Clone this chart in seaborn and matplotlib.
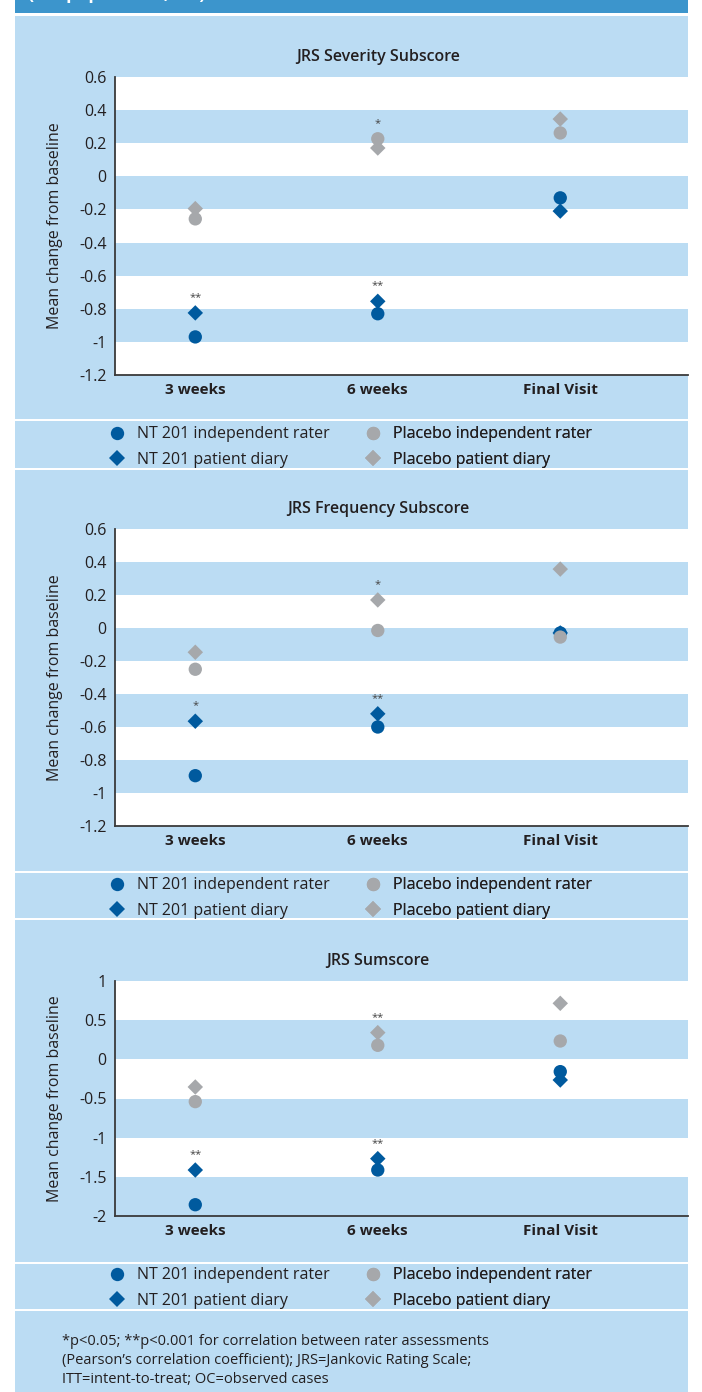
import matplotlib
matplotlib.use("Agg")
import matplotlib.pyplot as plt
from matplotlib.patches import Rectangle
from matplotlib.lines import Line2D
import pandas as pd
import seaborn as sns

visits = ['3 weeks', '6 weeks', 'Final Visit']
series = ['NT 201 independent rater', 'NT 201 patient diary',
          'Placebo independent rater', 'Placebo patient diary']

# JRS Severity Subscore
sev_nt_rater = [-0.97, -0.83, -0.13]
sev_nt_diary = [-0.825, -0.755, -0.21]
sev_pl_rater = [-0.257, 0.227, 0.262]
sev_pl_diary = [-0.195, 0.171, 0.346]
sev_ticks = [0.6, 0.4, 0.2, 0, -0.2, -0.4, -0.6, -0.8, -1, -1.2]
sev_sig = [('3 weeks', 'NT 201 patient diary', '**'),
           ('6 weeks', 'Placebo independent rater', '*'),
           ('6 weeks', 'NT 201 patient diary', '**')]

# JRS Frequency Subscore
frq_nt_rater = [-0.895, -0.60, -0.03]
frq_nt_diary = [-0.565, -0.52, -0.03]
frq_pl_rater = [-0.25, -0.015, -0.055]
frq_pl_diary = [-0.147, 0.17, 0.357]
frq_ticks = [0.6, 0.4, 0.2, 0, -0.2, -0.4, -0.6, -0.8, -1, -1.2]
frq_sig = [('3 weeks', 'NT 201 patient diary', '*'),
           ('6 weeks', 'Placebo patient diary', '*'),
           ('6 weeks', 'NT 201 patient diary', '**')]

# JRS Sumscore
sum_nt_rater = [-1.856, -1.413, -0.157]
sum_nt_diary = [-1.413, -1.268, -0.264]
sum_pl_rater = [-0.54, 0.179, 0.234]
sum_pl_diary = [-0.353, 0.341, 0.715]
sum_ticks = [1, 0.5, 0, -0.5, -1, -1.5, -2]
sum_sig = [('3 weeks', 'NT 201 patient diary', '**'),
           ('6 weeks', 'Placebo patient diary', '**'),
           ('6 weeks', 'NT 201 patient diary', '**')]

titles = ['JRS Severity Subscore', 'JRS Frequency Subscore', 'JRS Sumscore']
footnote = ("*p<0.05; **p<0.001 for correlation between rater assessments\n"
            "(Pearson\u2019s correlation coefficient); JRS=Jankovic Rating Scale;\n"
            "ITT=intent-to-treat; OC=observed cases")
header = "(ITT population, OC)"

BLUE = '#005a9e'
GREY = '#a6a8ab'
PANEL = '#bbdcf3'
HEAD = '#3c95cc'
INK = '#231f20'

palette = {series[0]: BLUE, series[1]: BLUE, series[2]: GREY, series[3]: GREY}
markers = {series[0]: 'o', series[1]: 'D', series[2]: 'o', series[3]: 'D'}
sizes = {series[0]: 92, series[1]: 62, series[2]: 92, series[3]: 62}

sns.set_theme(style='white')
plt.rcParams['font.family'] = ['Open Sans', 'DejaVu Sans']

W, H = 702, 1392
fig = plt.figure(figsize=(W / 100, H / 100), dpi=100)
fig.patch.set_facecolor('white')


def fy(px):
    return 1 - px / H


def rect(x0, y0, x1, y1, color):
    fig.patches.append(Rectangle((x0 / W, fy(y1)), (x1 - x0) / W, (y1 - y0) / H,
                                 transform=fig.transFigure, color=color, lw=0, zorder=-5))


# background panel, header bar and white separators
rect(15, 0, 688, 13, HEAD)
rect(15, 16, 688, H, PANEL)
for y in [420, 469, 872, 919, 1263, 1310]:
    rect(15, y - 1, 688, y + 1, 'white')

# header caption, cut off by the top edge as in the source
fig.text(28 / W, fy(-1), header, color='white', fontsize=13, fontweight='bold',
         ha='left', va='baseline')


def make_df(nt_rater, nt_diary, pl_rater, pl_diary):
    # drawing order: placebo on top of NT 201
    cols = {series[1]: nt_diary, series[0]: nt_rater,
            series[3]: pl_diary, series[2]: pl_rater}
    rows = []
    for name, vals in cols.items():
        for v, y in zip(visits, vals):
            rows.append({'visit': v, 'series': name, 'change': y})
    return pd.DataFrame(rows)


panels = [
    (make_df(sev_nt_rater, sev_nt_diary, sev_pl_rater, sev_pl_diary), sev_ticks, sev_sig, 77, 375),
    (make_df(frq_nt_rater, frq_nt_diary, frq_pl_rater, frq_pl_diary), frq_ticks, frq_sig, 529, 826),
    (make_df(sum_nt_rater, sum_nt_diary, sum_pl_rater, sum_pl_diary), sum_ticks, sum_sig, 981, 1216),
]

ax_left, ax_right = 115, 688

for i, (df, ticks, sig, top, bottom) in enumerate(panels):
    ax = fig.add_axes([ax_left / W, fy(bottom), (ax_right - ax_left) / W, (bottom - top) / H])
    ax.set_facecolor('white')

    # alternating bands between ticks, white at the top
    for k in range(len(ticks) - 1):
        if k % 2 == 1:
            ax.axhspan(ticks[k + 1], ticks[k], color=PANEL, lw=0, zorder=0)

    sns.scatterplot(data=df, x='visit', y='change', hue='series', style='series',
                    size='series', palette=palette, markers=markers, sizes=sizes,
                    linewidth=0, legend=False, ax=ax, zorder=3)

    for visit, name, txt in sig:
        val = df.loc[(df['visit'] == visit) & (df['series'] == name), 'change'].iloc[0]
        ax.annotate(txt, xy=(visit, val), xytext=(0, 7), textcoords='offset points',
                    ha='center', va='bottom', fontsize=8, color='#444444', zorder=4)

    ax.set_xlim(-0.44, 2.70)
    ax.set_ylim(ticks[-1], ticks[0])
    ax.set_yticks(ticks)
    ax.set_yticklabels([f'{t:g}' for t in ticks])
    ax.tick_params(axis='both', length=0, colors=INK)
    ax.tick_params(axis='y', pad=6, labelsize=11.5)
    ax.tick_params(axis='x', pad=5.5, labelsize=11)
    for lab in ax.get_xticklabels():
        lab.set_fontweight('bold')
    ax.set_xlabel('')
    ax.set_ylabel('Mean change from baseline', fontsize=11.5, color=INK)
    ax.yaxis.set_label_coords((63 - ax_left) / (ax_right - ax_left), 0.5)
    sns.despine(ax=ax)
    for s in ['left', 'bottom']:
        ax.spines[s].set_color('#3a3a3a')
        ax.spines[s].set_linewidth(1.3)

    fig.text(378 / W, fy(top - 20), titles[i], ha='center', va='center',
             fontsize=11.5, fontweight='semibold', color=INK)

    # legend, two columns
    leg_y = bottom + 72
    for names, x_px in [(series[:2], 109), (series[2:], 365)]:
        handles = [Line2D([], [], linestyle='none', marker=markers[n],
                          markersize=9.6 if markers[n] == 'o' else 7.9,
                          markeredgewidth=0, color=palette[n]) for n in names]
        leg = ax.legend(handles, names, loc='center left',
                        bbox_to_anchor=(x_px / W, fy(leg_y)), bbox_transform=fig.transFigure,
                        frameon=False, borderpad=0, borderaxespad=0, handlelength=0.95,
                        handletextpad=0.8, labelspacing=0.58, fontsize=11.5, labelcolor=INK)
        ax.add_artist(leg)

fig.text(62 / W, fy(1334), footnote, ha='left', va='top', fontsize=10.5,
         color=INK, linespacing=1.37)

fig.savefig('out.png', dpi=100)
